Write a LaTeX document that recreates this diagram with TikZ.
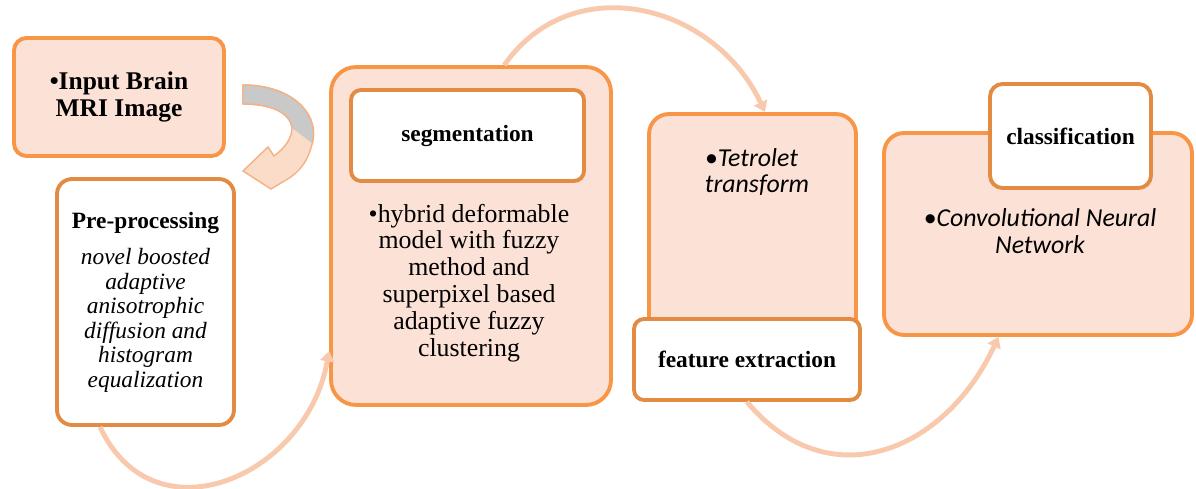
\documentclass[tikz,border=0pt]{standalone}
\usepackage{fontspec}
\setmainfont{Liberation Serif}
\newfontfamily\calibrifont{Carlito}
\usetikzlibrary{arrows.meta,positioning}
\definecolor{boxline}{HTML}{F79646}
\definecolor{lblline}{HTML}{E38B42}
\definecolor{boxfill}{HTML}{FCE1D6}
\definecolor{flowline}{HTML}{F9C9AE}
\definecolor{backgray}{HTML}{C9C9C9}
\definecolor{arrowface}{HTML}{FBDCC8}
\definecolor{arrowedge}{HTML}{F4B183}
\tikzset{%
	stage/.style    = {draw=boxline, fill=boxfill, line width=2.2pt, align=center}, % peach boxes
	stagelbl/.style = {draw=lblline, fill=white, line width=2.2pt, align=center,
	                   font=\fontsize{13.3}{14}\selectfont\bfseries}, % white titles
	bodytext/.style = {align=center, font=\fontsize{14.7}{15.3}\selectfont},
	sanstext/.style = {align=center, font=\calibrifont\itshape\fontsize{14.7}{15.3}\selectfont},
	flow/.style     = {draw=flowline, line width=2.8pt, ->},
}

\begin{document}
\begin{tikzpicture}[x=0.02cm,y=-0.02cm,>={Triangle[length=6pt,width=8pt]}]
	\useasboundingbox (0,0) rectangle (1196,489);

	% input
	\node [stage, minimum width=4.2cm, minimum height=2.36cm, rounded corners=0.25cm,
	       font=\fontsize{14.5}{15.8}\selectfont\bfseries] (input) at (119,97) {•Input Brain\\MRI Image};

	% pre-processing
	\node [stagelbl, fill=white, minimum width=3.54cm, minimum height=4.92cm, rounded corners=0.3cm,
	       font=\fontsize{13.3}{13.9}\selectfont\itshape] (pre) at (145.5,302)
	      {\textbf{\textup{Pre-processing}}\\[7pt]novel boosted\\adaptive\\anisotrophic\\diffusion and\\histogram\\equalization};

	% curved arrow between input and pre-processing
	\fill [arrowface, draw=arrowedge, line width=0.8pt]
	      (243,85) .. controls (290,85) and (318,112) .. (313,140)
	      .. controls (309,160) and (300,172) .. (286,180) -- (271,189) -- (243,171)
	      -- (268,147) -- (274,156) .. controls (285,148) and (292,138) .. (292,128)
	      .. controls (290,112) and (270,104) .. (243,104) -- cycle;
	\begin{scope}
		\clip (230,70) -- (335,70) -- (335,160) -- (292,128) -- (230,128) -- cycle;
		\fill [backgray, draw=arrowedge, line width=0.8pt]
		      (243,85) .. controls (290,85) and (318,112) .. (313,140)
		      .. controls (309,160) and (300,172) .. (286,180) -- (274,156)
		      .. controls (285,148) and (292,138) .. (292,128)
		      .. controls (290,112) and (270,104) .. (243,104) -- cycle;
	\end{scope}

	% segmentation
	\node [stage, minimum width=5.6cm, minimum height=6.76cm, rounded corners=0.5cm] (seg) at (471,236) {};
	\node [stagelbl, minimum width=4.66cm, minimum height=1.82cm, rounded corners=0.2cm] (seglbl) at (467.5,135.5) {segmentation};
	\node [bodytext] (segtxt) at (469,283)
	      {•hybrid deformable\\model with fuzzy\\method and\\superpixel based\\adaptive fuzzy\\clustering};

	% feature extraction
	\node [stage, minimum width=4.14cm, minimum height=4.68cm, rounded corners=0.4cm] (feat) at (752.5,231) {};
	\node [stagelbl, minimum width=4.52cm, minimum height=1.62cm, rounded corners=0.2cm] (featlbl) at (747,359.5) {feature extraction};
	\node [sanstext, align=left] (feattxt) at (757,172) {•Tetrolet\\transform};

	% classification
	\node [stage, minimum width=6.16cm, minimum height=4.04cm, rounded corners=0.4cm] (cls) at (1038,234) {};
	\node [stagelbl, minimum width=3.22cm, minimum height=2.08cm, rounded corners=0.25cm] (clslbl) at (1070.5,136) {classification};
	\node [sanstext] (clstxt) at (1040,231) {•Convolutional Neural\\Network};

	\draw [flow] (pre.250) to[out=-65, in=-100, looseness=1.35] (seg.219);
	\draw [flow] (seg.79) to[out=55, in=115, looseness=1.15] (feat.84);
	\draw [flow] (featlbl.south) to[out=-50, in=-115, looseness=1.25] (cls.249);
\end{tikzpicture}
\end{document}
